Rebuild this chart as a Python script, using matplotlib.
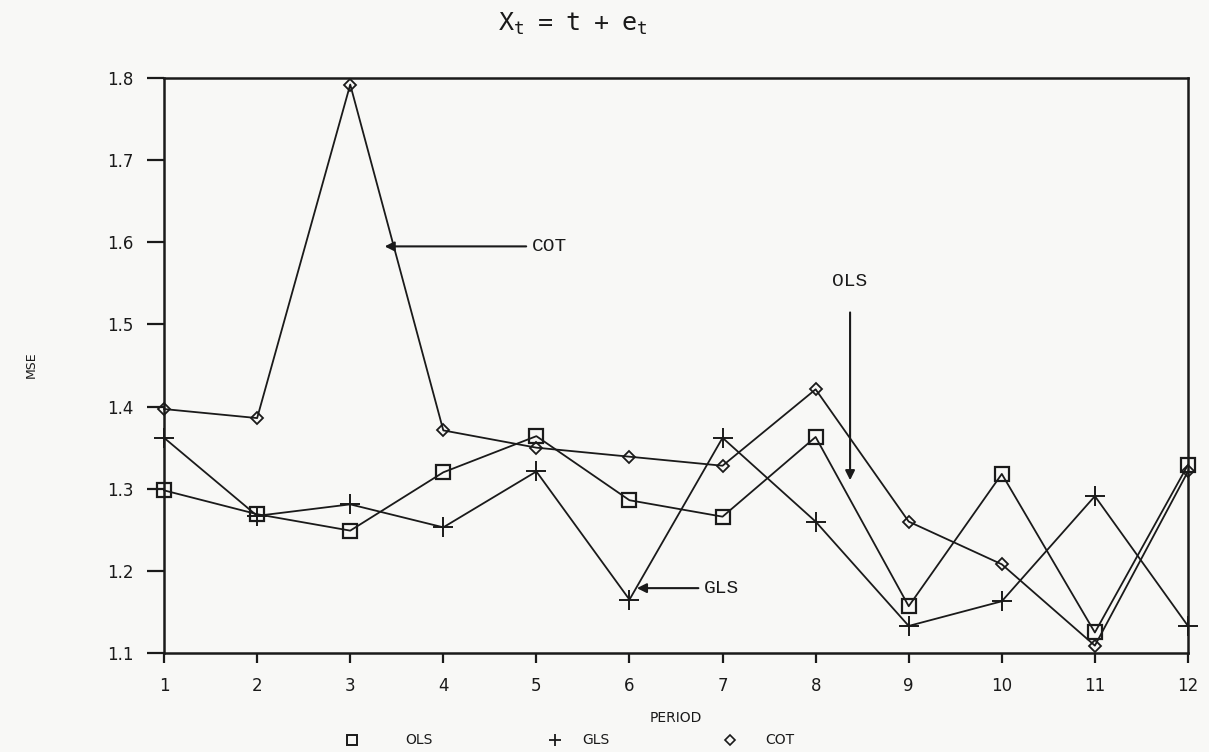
import matplotlib
matplotlib.use("Agg")
import matplotlib.pyplot as plt

periods = list(range(1, 13))
ols = [1.298, 1.269, 1.249, 1.320, 1.364, 1.286, 1.266, 1.363, 1.157, 1.318, 1.125, 1.329]
gls = [1.362, 1.267, 1.281, 1.253, 1.321, 1.165, 1.362, 1.260, 1.133, 1.163, 1.291, 1.133]
cot = [1.397, 1.386, 1.792, 1.371, 1.350, 1.339, 1.328, 1.421, 1.260, 1.208, 1.109, 1.321]
y_ticks = [1.1, 1.2, 1.3, 1.4, 1.5, 1.6, 1.7, 1.8]

ink = "#1a1a1a"
paper = "#f8f8f6"
mono = ["Liberation Mono", "DejaVu Sans Mono"]

fig = plt.figure(figsize=(12.09, 7.52), dpi=100, facecolor=paper)
ax = fig.add_axes([0.1357, 0.1316, 0.8469, 0.7647], facecolor=paper)

ax.plot(periods, ols, color=ink, lw=1.3, marker="s", ms=10, mfc="none",
        mec=ink, mew=1.6, clip_on=False)
ax.plot(periods, gls, color=ink, lw=1.3, marker="+", ms=14, mec=ink,
        mew=1.4, clip_on=False)
ax.plot(periods, cot, color=ink, lw=1.3, marker="D", ms=6, mfc="none",
        mec=ink, mew=1.3, clip_on=False)

ax.set_xlim(1, 12)
ax.set_ylim(1.1, 1.8)
ax.set_xticks(periods)
ax.set_yticks(y_ticks)
ax.set_yticklabels([f"{v:.1f}" for v in y_ticks])
for s in ax.spines.values():
    s.set_color(ink)
    s.set_linewidth(1.8)
ax.tick_params(axis="y", direction="out", length=12, width=1.6, colors=ink,
               labelsize=12, pad=10)
ax.tick_params(axis="x", direction="out", length=7, width=1.6, colors=ink,
               labelsize=12, pad=10)

fig.text(0.026, 0.515, "MSE", fontsize=9, color=ink, rotation=90,
         ha="center", va="center")
ax.set_xlabel("PERIOD", fontsize=10, color=ink, labelpad=12)

fig.text(0.474, 0.968, r"$\mathtt{X_t\ =\ t\ +\ e_t}$", fontsize=18,
         color=ink, ha="center", va="center")

arrow = dict(arrowstyle="-|>", color=ink, lw=1.5, mutation_scale=14)
ax.annotate("COT", xy=(3.34, 1.595), xytext=(4.95, 1.595),
            fontsize=14, family=mono, color=ink, va="center",
            arrowprops=arrow)
ax.annotate("GLS", xy=(6.05, 1.179), xytext=(6.8, 1.179),
            fontsize=14, family=mono, color=ink, va="center",
            arrowprops=arrow)
ax.annotate("OLS", xy=(8.37, 1.307), xytext=(8.37, 1.552),
            fontsize=14, family=mono, color=ink, ha="center", va="center",
            arrowprops=dict(arrowstyle="-|>", color=ink, lw=1.5,
                            mutation_scale=14, shrinkA=14))

# legend row beneath the axis title
ly = 0.016
fig.add_artist(plt.Line2D([0.291], [ly], marker="s", ms=7, mfc="none",
                          mec=ink, mew=1.4, transform=fig.transFigure))
fig.text(0.335, ly, "OLS", fontsize=10, color=ink, va="center")
fig.add_artist(plt.Line2D([0.459], [ly], marker="+", ms=9, mec=ink,
                          mew=1.3, transform=fig.transFigure))
fig.text(0.482, ly, "GLS", fontsize=10, color=ink, va="center")
fig.add_artist(plt.Line2D([0.604], [ly], marker="D", ms=5, mfc="none",
                          mec=ink, mew=1.2, transform=fig.transFigure))
fig.text(0.633, ly, "COT", fontsize=10, color=ink, va="center")

fig.savefig("out.png", dpi=100, facecolor=paper)
